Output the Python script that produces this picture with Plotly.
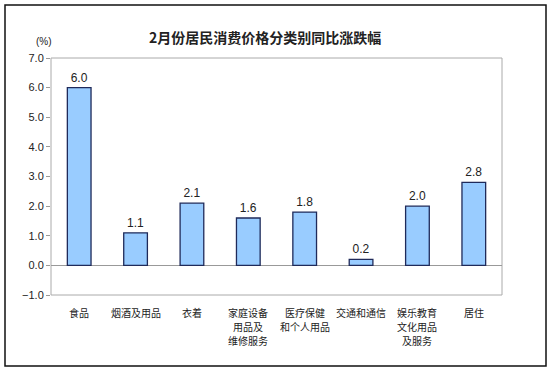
import plotly.graph_objects as go

categories = ["食品", "烟酒及用品", "衣着", "家庭设备\n用品及\n维修服务",
              "医疗保健\n和个人用品", "交通和通信", "娱乐教育\n文化用品\n及服务", "居住"]
values = [6.0, 1.1, 2.1, 1.6, 1.8, 0.2, 2.0, 2.8]
y_ticks = [-1.0, 0.0, 1.0, 2.0, 3.0, 4.0, 5.0, 6.0, 7.0]

CJK = "Noto Sans CJK SC"
NUM = "Liberation Sans, Arial"

x_idx = list(range(len(categories)))

fig = go.Figure(go.Bar(
    x=x_idx, y=values,
    width=0.42,
    marker=dict(color="#99CCFF", line=dict(color="#1F2A5A", width=1.3)),
    text=[f"{v:.1f}" for v in values],
    textposition="outside",
    textfont=dict(size=12, color="#222222", family=NUM),
    cliponaxis=False,
))

L, R, T, B = 51, 502, 58, 295
W, H = 550, 373

def px_x(p):
    return (p - L) / (R - L)

def px_y(p):
    return (B - p) / (B - T)

fig.update_layout(
    width=W, height=H,
    margin=dict(l=L, r=W - R, t=T, b=H - B, autoexpand=False),
    paper_bgcolor="white", plot_bgcolor="white",
    showlegend=False,
    font=dict(family=CJK, size=10, color="#222222"),
)
fig.update_xaxes(
    range=[-0.5, len(categories) - 0.5],
    showgrid=False, ticks="", showline=False, automargin=False,
    showticklabels=False, zeroline=False,
)
fig.update_yaxes(
    range=[-1.0, 7.0], tickvals=y_ticks, tickformat=".1f", automargin=False,
    showgrid=False, zeroline=True, zerolinecolor="#999999", zerolinewidth=1,
    ticks="outside", ticklen=4, tickcolor="#999999",
    showline=False,
    tickfont=dict(size=11, family=NUM, color="#222222"),
)

# category labels, one annotation per line
for i, cat in enumerate(categories):
    for j, line in enumerate(cat.split("\n")):
        fig.add_annotation(text=line, x=i, xref="x", y=0, yref="paper",
                           yanchor="middle", yshift=-(17 + 14 * j), showarrow=False,
                           font=dict(size=10, family=CJK, color="#222222"))

# plot area border
fig.add_shape(type="rect", xref="paper", yref="paper", x0=0, x1=1, y0=0, y1=1,
              line=dict(color="#AAAAAA", width=1), layer="below")
# outer frame
fig.add_shape(type="rect", xref="paper", yref="paper",
              x0=px_x(5), x1=px_x(546), y0=px_y(366), y1=px_y(5),
              line=dict(color="#111111", width=1.5))

fig.add_annotation(text="<b>2月份居民消费价格分类别同比涨跌幅</b>", xref="paper", yref="paper",
                   x=px_x(265), y=px_y(25), showarrow=False,
                   font=dict(size=14, family=CJK, color="#222222"))
fig.add_annotation(text="(%)", xref="paper", yref="paper",
                   x=px_x(34), y=px_y(34), showarrow=False,
                   font=dict(size=10, family=NUM, color="#222222"))

fig.write_html("out.html", config={"displayModeBar": False},
               post_script="document.body.style.margin='0';document.body.style.padding='0';")
